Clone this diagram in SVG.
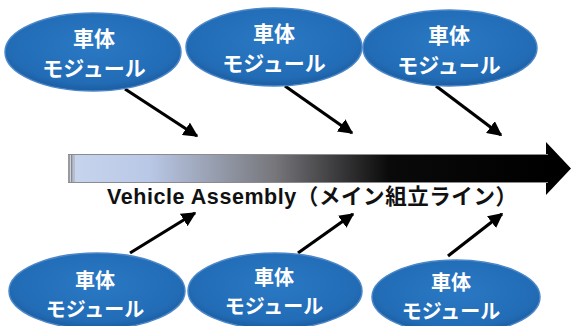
<svg xmlns="http://www.w3.org/2000/svg" width="571" height="326" viewBox="0 0 571 326">
<style>
.node ellipse{fill:url(#blue);stroke:#4a86c8;stroke-width:1.5}
.node text{font-family:"Noto Sans CJK JP","Noto Sans",sans-serif;font-weight:bold;font-size:21px;fill:#fff;text-anchor:middle}
.node text.b{font-size:20px}
.conn line{stroke:#000;stroke-width:3.2;marker-end:url(#ah)}
.label{font-family:"Liberation Sans","Noto Sans CJK JP",sans-serif;font-weight:bold;font-size:21.5px;fill:#111}
</style>
<defs>
<radialGradient id="blue" cx="0.5" cy="0.42" r="0.6">
<stop offset="0" stop-color="#2a78c4"/>
<stop offset="0.8" stop-color="#226cb6"/>
<stop offset="1" stop-color="#1a5a9c"/>
</radialGradient>
<linearGradient id="bar" x1="68" y1="0" x2="547" y2="0" gradientUnits="userSpaceOnUse">
<stop offset="0" stop-color="#c8d5ee"/>
<stop offset="0.17" stop-color="#b9c8e6"/>
<stop offset="0.43" stop-color="#77777c"/>
<stop offset="0.67" stop-color="#0a0a0a"/>
<stop offset="1" stop-color="#000"/>
</linearGradient>
<marker id="ah" viewBox="0 0 10 10" refX="9" refY="5" markerWidth="4.6" markerHeight="4.6" orient="auto" markerUnits="strokeWidth">
<path d="M0,0 L10,5 L0,10 z" fill="#000"/>
</marker>
</defs>
<rect width="571" height="326" fill="#fff"/>

<g id="main-arrow">
<rect x="68" y="154" width="480" height="29" fill="url(#bar)"/>
<path d="M546,142 L571,168.5 L546,195 z" fill="#000"/>
<rect x="68" y="154" width="2" height="29" fill="#9a9a9a"/>
<rect x="71" y="154" width="1.5" height="29" fill="#8a8a8a"/>
<rect x="73.5" y="154" width="1" height="29" fill="#a8a8a8"/>
<rect x="68" y="154" width="480" height="1" fill="#8c8c90"/>
<rect x="68" y="182" width="480" height="1" fill="#8c8c90"/>
<text class="label" x="107" y="204" textLength="410" lengthAdjust="spacing">Vehicle Assembly（メイン組立ライン）</text>
</g>

<g id="connectors" class="conn">
<line x1="125" y1="89" x2="197" y2="136"/>
<line x1="285" y1="86" x2="352" y2="133"/>
<line x1="436" y1="86" x2="501" y2="135"/>
<line x1="130" y1="253" x2="195" y2="213"/>
<line x1="298" y1="253" x2="353" y2="214"/>
<line x1="448" y1="256" x2="502" y2="214"/>
</g>

<g id="top-module-1" class="node">
<ellipse cx="93" cy="52" rx="88" ry="39"/>
<text x="94" y="45.5">車体<tspan x="94" y="76">モジュール</tspan></text>
</g>
<g id="top-module-2" class="node">
<ellipse cx="274" cy="47" rx="88" ry="39"/>
<text x="274" y="40.5">車体<tspan x="274" y="71">モジュール</tspan></text>
</g>
<g id="top-module-3" class="node">
<ellipse cx="450" cy="48" rx="87" ry="38"/>
<text x="449" y="42.5">車体<tspan x="449" y="73">モジュール</tspan></text>
</g>
<g id="bottom-module-1" class="node">
<ellipse cx="97" cy="291" rx="88" ry="38"/>
<text class="b" x="95" y="287.5">車体<tspan x="95" y="317">モジュール</tspan></text>
</g>
<g id="bottom-module-2" class="node">
<ellipse cx="275" cy="291" rx="87" ry="38"/>
<text class="b" x="274" y="284.5">車体<tspan x="274" y="314">モジュール</tspan></text>
</g>
<g id="bottom-module-3" class="node">
<ellipse cx="456" cy="297" rx="84" ry="37"/>
<text class="b" x="451" y="289.5">車体<tspan x="451" y="319">モジュール</tspan></text>
</g>
</svg>
